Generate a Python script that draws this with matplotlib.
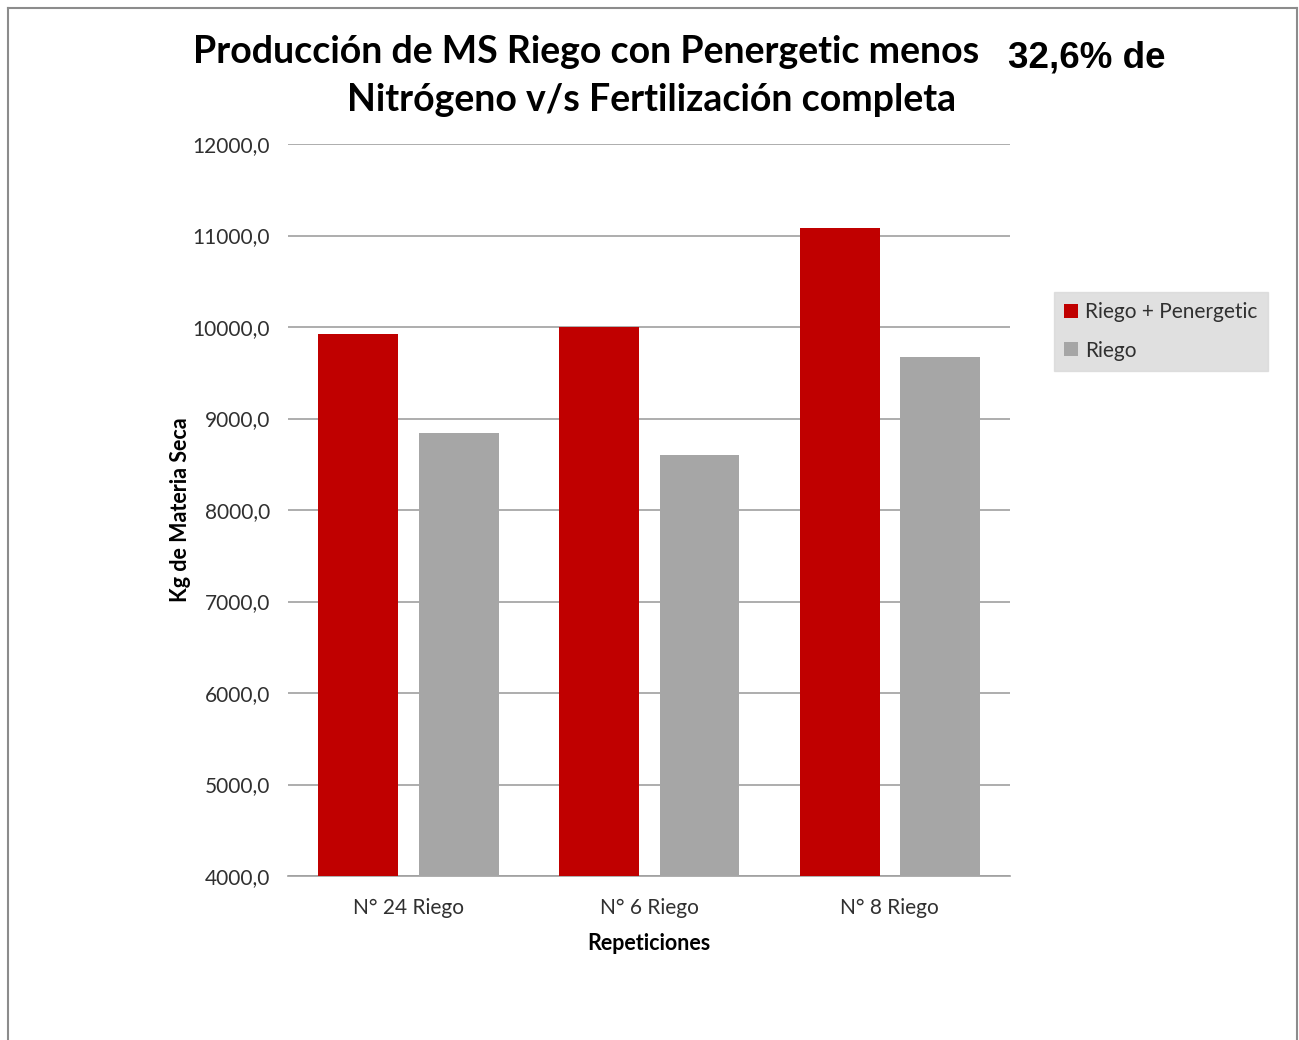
import matplotlib
matplotlib.use("Agg")
import matplotlib.pyplot as plt
import numpy as np

categories = ["N° 24 Riego", "N° 6 Riego", "N° 8 Riego"]
series_names = ["Riego + Penergetic", "Riego"]
riego_penergetic = [9920, 10005, 11085]
riego = [8840, 8600, 9675]
yticks = [4000, 5000, 6000, 7000, 8000, 9000, 10000, 11000, 12000]

FONT = "Lato"
fig = plt.figure(figsize=(12.99, 10.40), dpi=100)
fig.patch.set_facecolor("white")
# outer frame (open at bottom)
fig.add_artist(plt.Line2D([8/1299, 8/1299], [0, 1 - 8/1040], transform=fig.transFigure, color="#8c8c8c", lw=1.5))
fig.add_artist(plt.Line2D([8/1299, 1297/1299], [1 - 8/1040, 1 - 8/1040], transform=fig.transFigure, color="#8c8c8c", lw=1.5))
fig.add_artist(plt.Line2D([1297/1299, 1297/1299], [0, 1 - 8/1040], transform=fig.transFigure, color="#8c8c8c", lw=1.5))

ax = fig.add_axes([288/1299, 1 - 876/1040, (1010 - 288)/1299, (876 - 144)/1040])
x = np.arange(len(categories))
w = 0.332
ax.bar(x - 0.208, riego_penergetic, width=w, color="#c00000", label=series_names[0], zorder=3)
ax.bar(x + 0.210, riego, width=w, color="#a6a6a6", label=series_names[1], zorder=3)
ax.set_xlim(-0.5, 2.5)
ax.set_ylim(4000, 12000)
ax.set_yticks(yticks)
ax.set_yticklabels([f"{v},0" for v in yticks], fontsize=15, family=FONT, color="#303030")
ax.set_xticks(x)
ax.set_xticklabels(categories, fontsize=15, family=FONT, color="#303030")
ax.tick_params(axis="y", length=0, pad=13)
ax.tick_params(axis="x", length=0, pad=16)
ax.yaxis.grid(True, color="#a0a0a0", lw=1.2, zorder=0)
for s in ["top", "right", "left"]:
    ax.spines[s].set_visible(False)
ax.spines["bottom"].set_color("#a0a0a0")
ax.spines["bottom"].set_linewidth(1.2)
ax.set_axisbelow(True)

ax.set_ylabel("Kg de Materia Seca", fontsize=15.5, family=FONT, fontweight="bold", labelpad=1)
ax.set_xlabel("Repeticiones", fontsize=15.5, family=FONT, fontweight="bold", labelpad=11)

fig.text(586/1299, 1 - 52/1040, "Producción de MS Riego con Penergetic menos", ha="center", va="center",
         fontsize=27, family=FONT, fontweight="bold")
fig.text(652/1299, 1 - 100/1040, "Nitrógeno v/s Fertilización completa", ha="center", va="center",
         fontsize=27, family=FONT, fontweight="bold")
fig.text(1008/1299, 1 - 58/1040, "32,6% de", ha="left", va="center",
         fontsize=26.5, family="Liberation Sans", fontweight="bold")

leg = ax.legend(loc="upper left", bbox_to_anchor=((1054 - 288)/(1010 - 288), 1 - (292 - 144)/(876 - 144)),
                prop={"family": FONT, "size": 15}, frameon=True, fancybox=False,
                handlelength=0.65, handleheight=0.65, handletextpad=0.35, borderpad=0.5, labelspacing=0.88,
                borderaxespad=0)
leg.get_frame().set_facecolor("#d9d9d9")
leg.get_frame().set_edgecolor("#d9d9d9")
for t in leg.get_texts():
    t.set_color("#303030")

fig.savefig("out.png", dpi=100)
